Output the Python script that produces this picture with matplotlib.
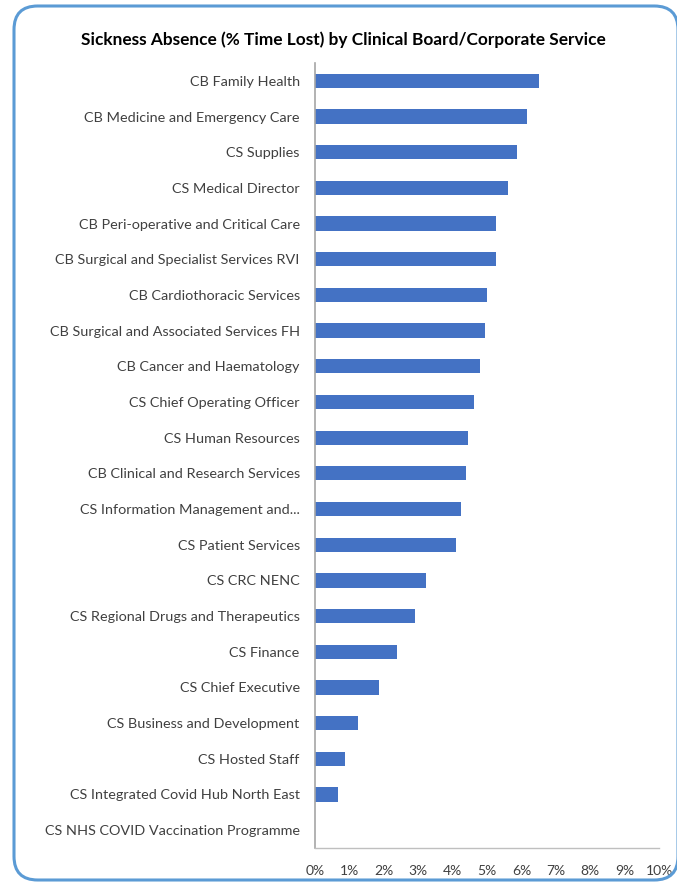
import numpy as np
import matplotlib.pyplot as plt
from matplotlib.patches import FancyBboxPatch
from matplotlib.ticker import PercentFormatter

# Sickness absence by board / service, % time lost (top to bottom)
services = [
    "CB Family Health",
    "CB Medicine and Emergency Care",
    "CS Supplies",
    "CS Medical Director",
    "CB Peri-operative and Critical Care",
    "CB Surgical and Specialist Services RVI",
    "CB Cardiothoracic Services",
    "CB Surgical and Associated Services FH",
    "CB Cancer and Haematology",
    "CS Chief Operating Officer",
    "CS Human Resources",
    "CB Clinical and Research Services",
    "CS Information Management and...",
    "CS Patient Services",
    "CS CRC NENC",
    "CS Regional Drugs and Therapeutics",
    "CS Finance",
    "CS Chief Executive",
    "CS Business and Development",
    "CS Hosted Staff",
    "CS Integrated Covid Hub North East",
    "CS NHS COVID Vaccination Programme",
]
pct_lost = [6.52, 6.17, 5.87, 5.62, 5.26, 5.26, 5.01, 4.95, 4.81, 4.61, 4.46,
            4.39, 4.25, 4.09, 3.22, 2.92, 2.37, 1.85, 1.24, 0.88, 0.68, 0.0]
x_ticks = np.arange(0, 11, 1)

plt.rcParams['font.family'] = ['Lato', 'DejaVu Sans']

fig = plt.figure(figsize=(6.77, 8.90), dpi=100)

# rounded frame around the whole chart
frame = FancyBboxPatch((14 / 677, 10 / 890), 664 / 677, 874 / 890,
                       boxstyle="round,pad=0,rounding_size=0.035",
                       transform=fig.transFigure, fill=False,
                       edgecolor="#5B9BD5", linewidth=2.2, mutation_aspect=677 / 890)
fig.patches.append(frame)

ax = fig.add_axes([315 / 677, 42 / 890, 344 / 677, 785 / 890])
y = np.arange(len(services))
ax.barh(y, pct_lost, height=0.4, color="#4472C4")
ax.set_ylim(len(services) - 0.5, -0.5)
ax.set_xlim(0, 10)
ax.set_yticks(y)
ax.set_yticklabels(services, fontsize=10.4, color="#404040")
ax.set_xticks(x_ticks)
ax.xaxis.set_major_formatter(PercentFormatter(decimals=0))
for lab in ax.get_xticklabels():
    lab.set_fontsize(10)
    lab.set_color("#404040")
ax.tick_params(axis="y", length=0, pad=11)
ax.tick_params(axis="x", length=0, pad=12)

for side in ("top", "right"):
    ax.spines[side].set_visible(False)
ax.spines["left"].set_color("#A6A6A6")
ax.spines["bottom"].set_color("#BFBFBF")
ax.spines["left"].set_linewidth(1.2)
ax.spines["bottom"].set_linewidth(1.0)

fig.text(343 / 677, 1 - 40 / 890,
         "Sickness Absence (% Time Lost) by Clinical Board/Corporate Service",
         ha="center", va="center", fontsize=12.4, fontweight="bold", color="#000000")

fig.savefig("out.png", dpi=100)
